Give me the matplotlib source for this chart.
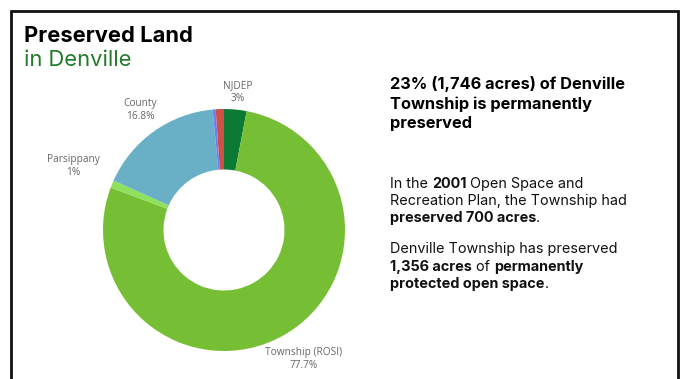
import matplotlib
matplotlib.use("Agg")
import matplotlib.pyplot as plt
from matplotlib.patches import Rectangle
from matplotlib.text import Annotation

# Slices, clockwise from 12 o'clock
labels = ["NJDEP", "Township (ROSI)", "Parsippany", "County", "Other A", "Other B"]
shares = [3.0, 77.7, 1.0, 16.8, 0.4, 1.1]
colors = ["#0b7a34", "#76bf35", "#8fe05c", "#69b0c6", "#6f7ff0", "#cf5047"]

# percent text shown next to the ring
shown = {"NJDEP": "3%", "Township (ROSI)": "77.7%", "Parsippany": "1%", "County": "16.8%"}

W, H = 685, 379
fig = plt.figure(figsize=(W / 100, H / 100), dpi=100)
fig.patch.set_facecolor("white")

# frame (open at the bottom)
fig.patches.append(Rectangle((11 / W, -0.05), (678 - 11) / W, (H - 11) / H + 0.05,
                             transform=fig.transFigure, fill=False,
                             edgecolor="#111111", linewidth=2.0))

# donut
cx, cy, r = 224, 230, 121
ax = fig.add_axes([(cx - r) / W, (H - cy - r) / H, 2 * r / W, 2 * r / H])
ax.pie(shares, colors=colors, startangle=90, counterclock=False,
       wedgeprops=dict(width=0.5, linewidth=0))
ax.set_xlim(-1, 1)
ax.set_ylim(-1, 1)
ax.axis("off")

lab_font = dict(family="Open Sans", fontsize=7.3, color="#666666",
                ha="center", va="center", linespacing=1.15)
label_pos = {"NJDEP": (238, 92), "County": (140, 110),
             "Parsippany": (73, 166), "Township (ROSI)": (304, 359)}
for name, (px, py) in label_pos.items():
    fig.text(px / W, 1 - py / H, name + "\n" + shown[name], **lab_font)

# titles
fig.text(24 / W, 1 - 36 / H, "Preserved Land", family="Inter", weight="bold",
         fontsize=15.8, color="black", va="center")
fig.text(24 / W, 1 - 60 / H, "in Denville", family="Inter", weight="normal",
         fontsize=15.8, color="#237a2a", va="center")

# right-hand headline
fig.text(390 / W, 1 - 76 / H, "23% (1,746 acres) of Denville\nTownship is permanently\npreserved",
         family="Inter", weight="bold", fontsize=11.8, color="black", va="top",
         linespacing=1.33)


def text_line(y, parts, size=10.4):
    # lay out regular / bold pieces one after another on one line
    prev = None
    for txt, bold in parts:
        kw = dict(family="Inter", fontsize=size, color="#111111",
                  weight="bold" if bold else "normal", ha="left", va="bottom")
        if prev is None:
            prev = fig.text(390 / W, 1 - y / H, txt, **kw)
        else:
            prev = fig.add_artist(Annotation(txt, xy=(1, 0), xycoords=prev, **kw))


text_line(191, [("In the ", False), ("2001", True), (" Open Space and", False)])
text_line(208, [("Recreation Plan, the Township had", False)])
text_line(225, [("preserved 700 acres", True), (".", False)])
text_line(256, [("Denville Township has preserved", False)])
text_line(274, [("1,356 acres", True), (" of ", False), ("permanently", True)])
text_line(291, [("protected open space", True), (".", False)])

fig.savefig("out.png", dpi=100, facecolor="white")
